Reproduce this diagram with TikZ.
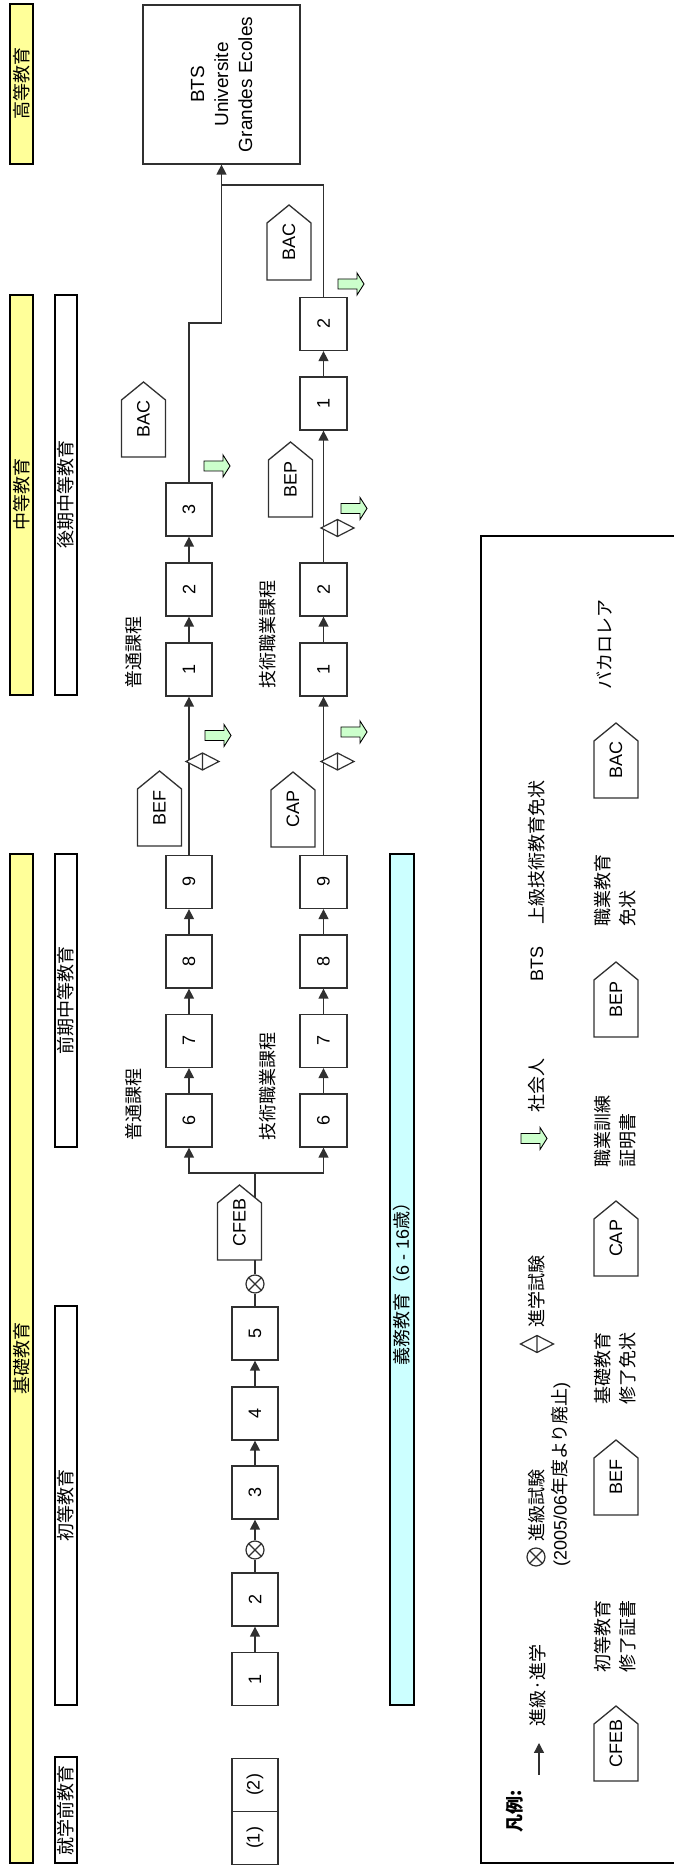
\documentclass[tikz,border=0pt]{standalone}
\usepackage{fontspec}
\setmainfont{Liberation Sans}
\newfontfamily\jp{Noto Sans CJK JP}
\usetikzlibrary{arrows.meta}
\definecolor{yel}{HTML}{FFFF99}
\definecolor{cya}{HTML}{CCFFFF}
\definecolor{grn}{HTML}{CCFFCC}
\definecolor{lc}{HTML}{303030}
\newcommand\fs{\fontsize{18pt}{25pt}\selectfont}
% pentagon: name, X of base, Y centre, text
\newcommand\pent[4]{%
  \draw[lc, line width=1.3pt, fill=white] (#2,#3-22) -- (#2+57,#3-22) -- (#2+75,#3) -- (#2+57,#3+22) -- (#2,#3+22) -- cycle;
  \node[font=\fs, inner sep=0pt] (#1) at (#2+37.5,#3) {#4};}
% green arrow: X centre, Y top
\newcommand\garr[2]{%
  \draw[black, line width=0.9pt, fill=grn] (#1-5,#2) -- (#1+5,#2) -- (#1+5,#2-19) -- (#1+11,#2-19) -- (#1,#2-26) -- (#1-11,#2-19) -- (#1-5,#2-19) -- cycle;}
% diamond: name, X, Y
\newcommand\dia[3]{%
  \coordinate (#1) at (#2,#3);
  \draw[lc, line width=1.2pt, fill=white] (#2-8.5,#3) -- (#2,#3+16.5) -- (#2+8.5,#3) -- (#2,#3-16.5) -- cycle (#2-8.5,#3) -- (#2+8.5,#3);}
% circled cross: name, X, Y
\newcommand\xo[3]{%
  \node[otimes] (#1) at (#2,#3) {};
  \draw[lc, line width=1.1pt] (#1.north west) -- (#1.south east) (#1.north east) -- (#1.south west);}
\begin{document}
\begin{tikzpicture}[x=1pt, y=1pt, rotate=90, transform shape,
  box/.style={draw=lc, line width=1.3pt, fill=white, minimum width=53pt, minimum height=46pt, inner sep=0pt, font=\fs},
  ybar/.style={draw=black, line width=2.2pt, fill=yel, minimum height=23pt, inner sep=0pt, font=\jp\fs},
  wbar/.style={draw=black, line width=2.2pt, fill=white, minimum height=22pt, inner sep=0pt, font=\jp\fs},
  cbar/.style={draw=black, line width=2.2pt, fill=cya, minimum height=24pt, inner sep=0pt, font=\fs},
  conn/.style={draw=lc, line width=1.3pt},
  arr/.style={conn, -{Triangle[length=10pt,width=10pt]}},
  otimes/.style={draw=lc, circle, line width=1.2pt, minimum size=18pt, inner sep=0pt, fill=white},
  jt/.style={font=\jp\fs, inner sep=0pt},
  jt2/.style={font=\jp\fs, inner sep=0pt, align=left},
]
\useasboundingbox (0,-674) rectangle (1865,0);
\fill[white] (0,-674) rectangle (1865,0);

% header bars
\node[ybar, minimum width=160pt] (hb) at (1781,-21.5) {高等教育};
\node[ybar, minimum width=400pt] (mb) at (1370,-21.5) {中等教育};
\node[ybar, minimum width=1009pt] (bb) at (506.5,-21.5) {基礎教育};
\node[wbar, minimum width=400pt] (w1) at (1370,-66) {後期中等教育};
\node[wbar, minimum width=293pt] (w2) at (864.5,-66) {前期中等教育};
\node[wbar, minimum width=399pt] (w3) at (359.5,-66) {初等教育};
\node[wbar, minimum width=106pt] (w4) at (55,-66) {就学前教育};
\node[cbar, minimum width=851pt] (cb) at (585.5,-402) {{\jp 義務教育（}6 - 16{\jp 歳）}};

% higher education box
\node[draw=lc, line width=1.3pt, fill=white, minimum width=159pt, minimum height=157pt, align=center,
      font=\fontsize{19pt}{24pt}\selectfont] (bts) at (1780.5,-221.5) {BTS\\Universite\\Grandes Ecoles};

% primary row
\node[box] (p1) at (27,-255) {(1)};
\node[box] (p2) at (80,-255) {(2)};
\node[box] (b1) at (186,-255) {1};
\node[box] (b2) at (265.5,-255) {2};
\xo{x1}{315}{-255}
\node[box] (b3) at (372.5,-255) {3};
\node[box] (b4) at (451.5,-255) {4};
\node[box] (b5) at (531.5,-255) {5};
\xo{x2}{581}{-255}
\coordinate (fork) at (692,-255);

% general row
\node[box] (g6) at (744.5,-189) {6};
\node[box] (g7) at (824,-189) {7};
\node[box] (g8) at (903.5,-189) {8};
\node[box] (g9) at (983,-189) {9};
\node[box] (g1) at (1195.5,-189) {1};
\node[box] (g2) at (1275.5,-189) {2};
\node[box] (g3) at (1355.5,-189) {3};
\coordinate (gj) at (1542,-189);

% technical row
\node[box, minimum height=47pt] (t6) at (744.5,-323.5) {6};
\node[box, minimum height=47pt] (t7) at (824,-323.5) {7};
\node[box, minimum height=47pt] (t8) at (903.5,-323.5) {8};
\node[box, minimum height=47pt] (t9) at (983,-323.5) {9};
\node[box, minimum height=47pt] (t1) at (1195.5,-323.5) {1};
\node[box, minimum height=47pt] (t2) at (1275.5,-323.5) {2};
\node[box, minimum height=47pt] (t1u) at (1461.5,-323.5) {1};
\node[box, minimum height=47pt] (t2u) at (1541,-323.5) {2};
\coordinate (tj) at (1680,-221.5);

% connectors
\draw[arr] (b1) -- (b2);
\draw[conn] (b2) -- (x1);
\draw[arr] (x1) -- (b3);
\draw[arr] (b3) -- (b4);
\draw[arr] (b4) -- (b5);
\draw[conn] (b5) -- (x2);
\draw[conn] (x2) -- (fork);
\draw[arr] (fork) |- (g6.west);
\draw[arr] (fork) |- (t6.west);
\draw[arr] (g6) -- (g7);
\draw[arr] (g7) -- (g8);
\draw[arr] (g8) -- (g9);
\draw[arr] (g9) -- (g1);
\draw[arr] (g1) -- (g2);
\draw[arr] (g2) -- (g3);
\draw[arr] (g3.east) -- (gj) |- (bts.west);
\draw[arr] (t6) -- (t7);
\draw[arr] (t7) -- (t8);
\draw[arr] (t8) -- (t9);
\draw[arr] (t9) -- (t1);
\draw[arr] (t1) -- (t2);
\draw[arr] (t2) -- (t1u);
\draw[arr] (t1u) -- (t2u);
\draw[conn] (t2u.east) -| (tj);

% diplomas
\pent{cfeb}{605}{-239.5}{CFEB}
\pent{bef}{1019}{-159.5}{BEF}
\pent{bacg}{1408}{-143.5}{BAC}
\pent{cap}{1018}{-293}{CAP}
\pent{bep}{1348}{-290.5}{BEP}
\pent{bact}{1585}{-289}{BAC}

% exams
\dia{dg}{1103.5}{-202.5}
\dia{dt1}{1103.5}{-337.5}
\dia{dt2}{1337}{-337.5}

% leaving school
\garr{1129.5}{-205}
\garr{1399}{-204}
\garr{1133}{-341}
\garr{1356.5}{-341}
\garr{1581}{-338}

% track labels
\node[jt, anchor=west] (lg1) at (1176,-134) {普通課程};
\node[jt, anchor=west] (lt1) at (1176,-268) {技術職業課程};
\node[jt, anchor=west] (lg2) at (724,-134) {普通課程};
\node[jt, anchor=west] (lt2) at (724,-268) {技術職業課程};

% legend
\draw[black, line width=2pt] (2,-680) -- (2,-481) -- (1329,-481) -- (1329,-680);
\node[font=\jp\bfseries\fs, inner sep=0pt, anchor=west] (lgt) at (32,-515) {凡例:};
\coordinate (la1) at (90,-539);
\coordinate (la2) at (122,-539);
\draw[arr] (la1) -- (la2);
\node[jt, anchor=west] (l1) at (138,-538) {進級·進学};
\xo{lx}{308}{-536}
\node[jt, anchor=west] (l2) at (323,-537) {進級試験};
\node[font=\fs, inner sep=0pt, anchor=west] (l2b) at (298,-561) {(2005/06{\jp 年度より廃止})};
\dia{ld}{521}{-537}
\node[jt, anchor=west] (l3) at (537,-537) {進学試験};
\garr{726.5}{-521}
\node[jt, anchor=west] (l4) at (752,-537) {社会人};
\node[font=\fs, inner sep=0pt, anchor=west] (l5) at (883,-537) {BTS};
\node[jt, anchor=west] (l5b) at (940,-537) {上級技術教育免状};
\pent{lcfeb}{84}{-616}{CFEB}
\node[jt2, anchor=west] (l6) at (192,-615.5) {初等教育\\修了証書};
\pent{lbef}{350}{-616}{BEF}
\node[jt2, anchor=west] (l7) at (460,-615.5) {基礎教育\\修了免状};
\pent{lcap}{589}{-616}{CAP}
\node[jt2, anchor=west] (l8) at (697,-615.5) {職業訓練\\証明書};
\pent{lbep}{828}{-616}{BEP}
\node[jt2, anchor=west] (l9) at (938,-615.5) {職業教育\\免状};
\pent{lbac}{1067}{-616}{BAC}
\node[jt, anchor=west] (l10) at (1175,-604) {バカロレア};
\end{tikzpicture}
\end{document}
